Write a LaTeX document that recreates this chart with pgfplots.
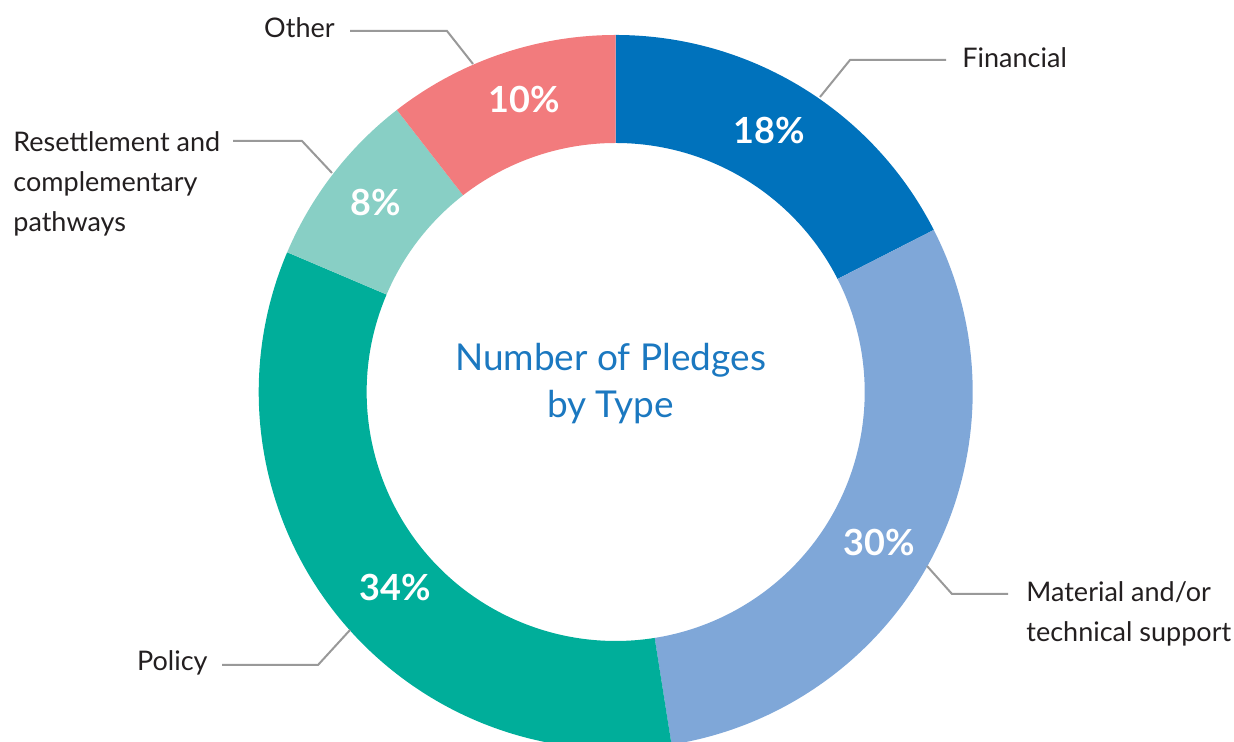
\documentclass[border=0pt]{standalone}
\usepackage{fontspec}
\setmainfont{Lato}
\usepackage{pgfplots}
\usepackage{pgfplotstable}
\pgfplotsset{compat=1.18}

\definecolor{c0}{HTML}{0072BC}
\definecolor{c1}{HTML}{7FA7D8}
\definecolor{c2}{HTML}{00AE9A}
\definecolor{c3}{HTML}{88CFC5}
\definecolor{c4}{HTML}{F27B7D}
\definecolor{titleblue}{HTML}{1B78C0}
\definecolor{labeltext}{HTML}{231F20}
\definecolor{leader}{HTML}{999999}

% share of pledges (percent), clockwise from the top; lx, ly = label position
\pgfplotstableread{
share label lx   ly
17.5  18    769  611
30.0  30    879  199
33.9  34    395  154
8.1   8     376  539
10.5  10    524  642
}\pledges

\def\cx{615.7}
\def\cy{350}
\def\Ro{357}
\def\Ri{249}

\begin{document}
\begin{tikzpicture}
\def\cum{90}
\pgfplotsforeachungrouped \i in {0,...,4}{%
  \pgfplotstablegetelem{\i}{share}\of\pledges
  \pgfmathsetmacro{\st}{\cum}%
  \pgfmathsetmacro{\en}{\cum-3.6*\pgfplotsretval}%
  \expandafter\xdef\csname aS\i\endcsname{\st}%
  \expandafter\xdef\csname aE\i\endcsname{\en}%
  \pgfplotstablegetelem{\i}{label}\of\pledges
  \expandafter\xdef\csname lab\i\endcsname{\pgfplotsretval}%
  \pgfplotstablegetelem{\i}{lx}\of\pledges
  \expandafter\xdef\csname lx\i\endcsname{\pgfplotsretval}%
  \pgfplotstablegetelem{\i}{ly}\of\pledges
  \expandafter\xdef\csname ly\i\endcsname{\pgfplotsretval}%
  \xdef\cum{\en}%
}
\begin{axis}[
  scale only axis,
  width=617pt, height=371pt,
  xmin=0, xmax=1234, ymin=0, ymax=742,
  hide axis,
  clip=false,
]
\pgfplotsinvokeforeach{0,...,4}{
  \fill[c#1, shift={(axis cs:\cx,\cy)}]
    ({\csname aS#1\endcsname}:{\Ro*0.5pt})
    arc[start angle=\csname aS#1\endcsname, end angle=\csname aE#1\endcsname, radius=\Ro*0.5pt]
    -- ({\csname aE#1\endcsname}:{\Ri*0.5pt})
    arc[start angle=\csname aE#1\endcsname, end angle=\csname aS#1\endcsname, radius=\Ri*0.5pt]
    -- cycle;
  \node[text=white, font=\fontsize{18}{20}\selectfont\bfseries]
    at (axis cs:\csname lx#1\endcsname,\csname ly#1\endcsname) {\csname lab#1\endcsname\%};
}

% leader lines
\draw[leader, line width=1pt] (axis cs:820,645) -- (axis cs:850,682) -- (axis cs:946,682);
\draw[leader, line width=1pt] (axis cs:927,176) -- (axis cs:952,148) -- (axis cs:1008,148);
\draw[leader, line width=1pt] (axis cs:350,112) -- (axis cs:318,77) -- (axis cs:222,77);
\draw[leader, line width=1pt] (axis cs:332,569) -- (axis cs:302,601) -- (axis cs:233,601);
\draw[leader, line width=1pt] (axis cs:473,678) -- (axis cs:447,711) -- (axis cs:350,711);

% category labels
\tikzset{catlab/.style={text=labeltext, font=\fontsize{13.5}{20}\selectfont, inner sep=0pt, align=left}}
\node[catlab, anchor=west] at (axis cs:962,684) {Financial};
\node[catlab, anchor=west] at (axis cs:1026,128) {Material and/or\\technical support};
\node[catlab, anchor=east] at (axis cs:208,79) {Policy};
\node[catlab, anchor=west] at (axis cs:13,558) {Resettlement and\\complementary\\pathways};
\node[catlab, anchor=east] at (axis cs:335,714) {Other};

% centre title
\node[text=titleblue, font=\fontsize{18.5}{23.5}\selectfont, align=center] at (axis cs:610.5,358) {Number of Pledges\\by Type};
\end{axis}
\pgfresetboundingbox
\path[use as bounding box] (current axis.south west) rectangle (current axis.north east);
\end{tikzpicture}
\end{document}
